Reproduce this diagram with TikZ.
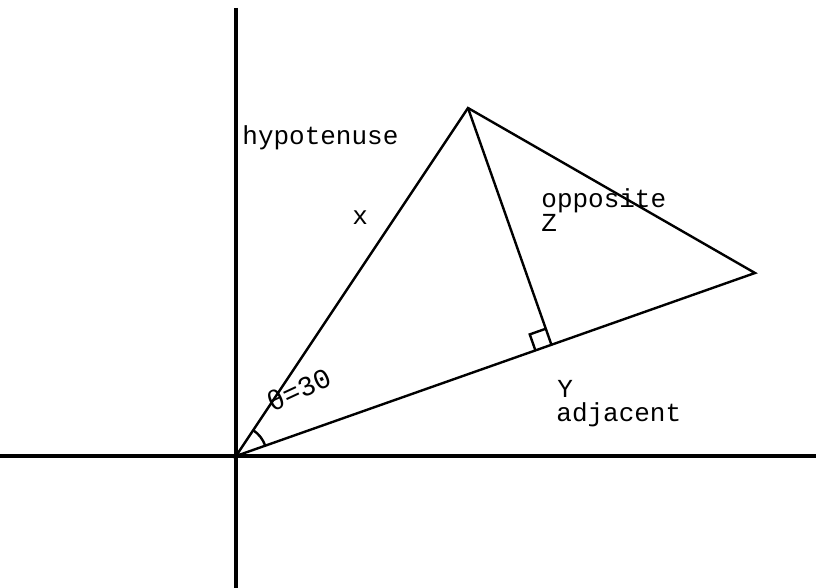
\documentclass[tikz,border=0pt]{standalone}
\usepackage{fontspec}
\setmonofont{Liberation Mono}
\usetikzlibrary{calc}
\begin{document}
\begin{tikzpicture}[x=0.5pt,y=-0.5pt,
  lbl/.style={font=\ttfamily\fontsize{13}{14}\selectfont, inner sep=0pt, anchor=base west},
  side/.style={line width=1.2pt}]
\useasboundingbox (0,0) rectangle (816,588);
% axes
\coordinate (O) at (236,456);
\coordinate (xl) at (0,456);
\coordinate (xr) at (816,456);
\coordinate (yt) at (236,8);
\coordinate (yb) at (236,588);
\draw[line width=2pt] (xl) -- (xr);
\draw[line width=2pt] (yt) -- (yb);
% triangle
\coordinate (A) at (468,108);
\coordinate (B) at (755,273);
\coordinate (F) at ($(O)!(A)!(B)$);
\draw[side] (O) -- (A) -- (B) -- cycle;
\draw[side] (A) -- (F);
% right angle mark
\coordinate (r1) at ($(F)!8.5pt!(O)$);
\coordinate (r3) at ($(F)!8.5pt!(A)$);
\coordinate (r2) at ($(r1)+(r3)-(F)$);
\draw[side] (r1) -- (r2) -- (r3);
% angle at origin
\draw[side] ($(O)!15.5pt!(B)$) arc[start angle=-19.4, end angle=-56.3, radius=31];
\node[lbl, font=\ttfamily\fontsize{14}{15}\selectfont, rotate=25] (theta) at (272,413) {θ=30};
% labels
\node[lbl] (hyp) at (242,145) {hypotenuse};
\node[lbl] (x) at (352,225) {x};
\node[lbl] (opp) at (541,208) {opposite};
\node[lbl] (z) at (541,232) {Z};
\node[lbl] (y) at (557,398) {Y};
\node[lbl] (adj) at (556,422) {adjacent};
\end{tikzpicture}
\end{document}
